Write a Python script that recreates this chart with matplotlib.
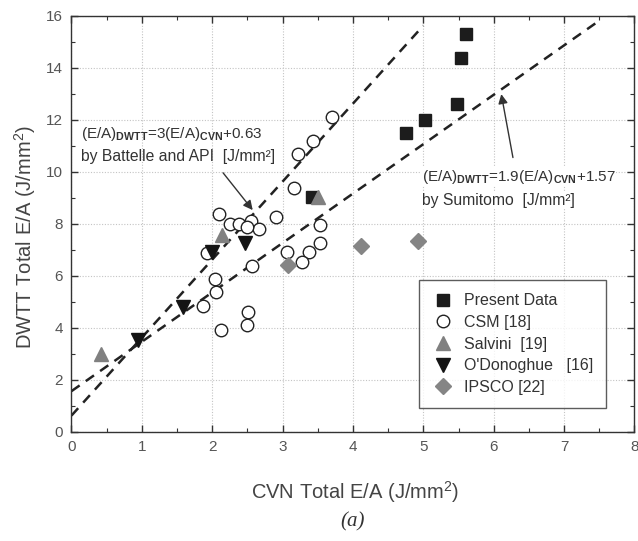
import matplotlib
matplotlib.use("Agg")
import matplotlib.pyplot as plt
import numpy as np
from matplotlib.ticker import MultipleLocator

plt.rcParams['font.family'] = ['Liberation Sans', 'DejaVu Sans']
plt.rcParams['mathtext.fontset'] = 'custom'
plt.rcParams['mathtext.rm'] = 'Liberation Sans'
plt.rcParams['mathtext.bf'] = 'Liberation Sans:bold'

# data
present_x = [4.75, 5.02, 5.48, 5.53, 5.61, 3.42]
present_y = [11.5, 12.0, 12.6, 14.4, 15.3, 9.03]

csm_x = [3.70, 3.43, 3.22, 3.16, 2.90, 2.10, 2.25, 2.38, 2.55, 2.67, 2.50, 1.92,
         3.53, 3.53, 3.37, 3.27, 3.06, 2.56, 2.04, 2.05, 1.87, 2.51, 2.50, 2.12]
csm_y = [12.1, 11.2, 10.7, 9.4, 8.27, 8.4, 7.98, 8.0, 8.1, 7.8, 7.9, 6.87,
         7.96, 7.26, 6.93, 6.55, 6.93, 6.37, 5.87, 5.38, 4.84, 4.62, 4.1, 3.94]

salvini_x = [0.42, 2.14, 3.51]
salvini_y = [3.0, 7.58, 9.05]

odon_x = [0.94, 1.58, 1.99, 2.47]
odon_y = [3.54, 4.8, 6.93, 7.26]

ipsco_x = [3.08, 4.11, 4.93]
ipsco_y = [6.42, 7.15, 7.36]

# correlation lines: slope, intercept, x end
battelle = (3.0, 0.63, 5.0)
sumitomo = (1.9, 1.57, 7.5)

fig = plt.figure(figsize=(6.38, 5.41), dpi=100)
ax = fig.add_axes([0.112, 0.2015, 0.8825, 0.769])

for slope, icpt, xend in (battelle, sumitomo):
    xs = np.array([0, xend])
    ax.plot(xs, slope * xs + icpt, color='#222222', lw=1.8,
            linestyle=(0, (4, 3)), zorder=2)

ax.plot(present_x, present_y, 's', color='#1c1c1c', ms=8.5, ls='none',
        label='Present Data', zorder=4)
ax.plot(csm_x, csm_y, 'o', mfc='white', mec='#222222', mew=1.0, ms=9,
        ls='none', label='CSM [18]', zorder=3)
ax.plot(salvini_x, salvini_y, '^', color='#808080', ms=10.5, ls='none',
        label='Salvini  [19]', zorder=4)
ax.plot(odon_x, odon_y, 'v', color='#141414', ms=10.5, ls='none',
        label="O'Donoghue   [16]", zorder=4)
ax.plot(ipsco_x, ipsco_y, 'D', color='#858585', ms=8.5, ls='none',
        label='IPSCO [22]', zorder=4)

ax.set_xlim(0, 8)
ax.set_ylim(0, 16)
ax.xaxis.set_major_locator(MultipleLocator(1))
ax.xaxis.set_minor_locator(MultipleLocator(0.5))
ax.yaxis.set_major_locator(MultipleLocator(2))
ax.yaxis.set_minor_locator(MultipleLocator(1))
ax.tick_params(which='both', direction='in', top=True, right=True,
               colors='#333333', labelcolor='#555555', labelsize=11)
ax.tick_params(which='major', length=5, width=1, pad=6)
ax.tick_params(which='minor', length=3, width=0.8)
ax.grid(True, which='major', color='#c4c4c4', lw=0.8, linestyle=(0, (1, 1.5)))
for s in ax.spines.values():
    s.set_color('#333333')
    s.set_linewidth(1.0)

ax.set_xlabel('CVN Total E/A (J/mm$^2$)', fontsize=14.5, color='#444444')
ax.set_ylabel('DWTT Total E/A (J/mm$^2$)', fontsize=14.5, color='#444444')
ax.xaxis.set_label_coords(0.503, -0.113)
ax.yaxis.set_label_coords(-0.060, 0.469)

ax.annotate('', xy=(2.6, 8.45), xytext=(2.13, 10.05),
            arrowprops=dict(arrowstyle='-|>', color='#333333', lw=1.0,
                            mutation_scale=14), zorder=5)
ax.annotate('', xy=(6.1, 13.1), xytext=(6.28, 10.45),
            arrowprops=dict(arrowstyle='-|>', color='#333333', lw=1.0,
                            mutation_scale=14), zorder=5)

ax.text(0.13, 11.45, r'(E/A)$_{\mathbf{DWTT}}$=3(E/A)$_{\mathbf{CVN}}$+0.63',
        fontsize=11, color='#333333', va='center', ha='left', zorder=6)
ax.text(0.13, 10.6, 'by Battelle and API  [J/mm²]',
        fontsize=11.3, color='#333333', va='center', ha='left', zorder=6)
ax.text(4.98, 9.82, r'(E/A)$_{\mathbf{DWTT}}$=1.9(E/A)$_{\mathbf{CVN}}$+1.57',
        fontsize=11, color='#333333', va='center', ha='left', zorder=6,
        bbox=dict(fc='white', ec='none', pad=0.5))
ax.text(4.98, 8.92, 'by Sumitomo  [J/mm²]',
        fontsize=11.3, color='#333333', va='center', ha='left', zorder=6,
        bbox=dict(fc='white', ec='none', pad=0.5))

leg = ax.legend(loc='lower right', bbox_to_anchor=(0.949, 0.058),
                fontsize=11.5, frameon=True, fancybox=False, borderpad=0.8,
                labelspacing=0.42, handletextpad=0.6, handlelength=1.4,
                borderaxespad=0)
leg.get_frame().set_edgecolor('#333333')
leg.get_frame().set_linewidth(1.0)
for t in leg.get_texts():
    t.set_color('#333333')

fig.text(0.553, 0.035, '(a)', fontsize=15, family='Liberation Serif',
         style='italic', ha='center', va='center', color='#333333')

fig.savefig('out.png', dpi=100)
